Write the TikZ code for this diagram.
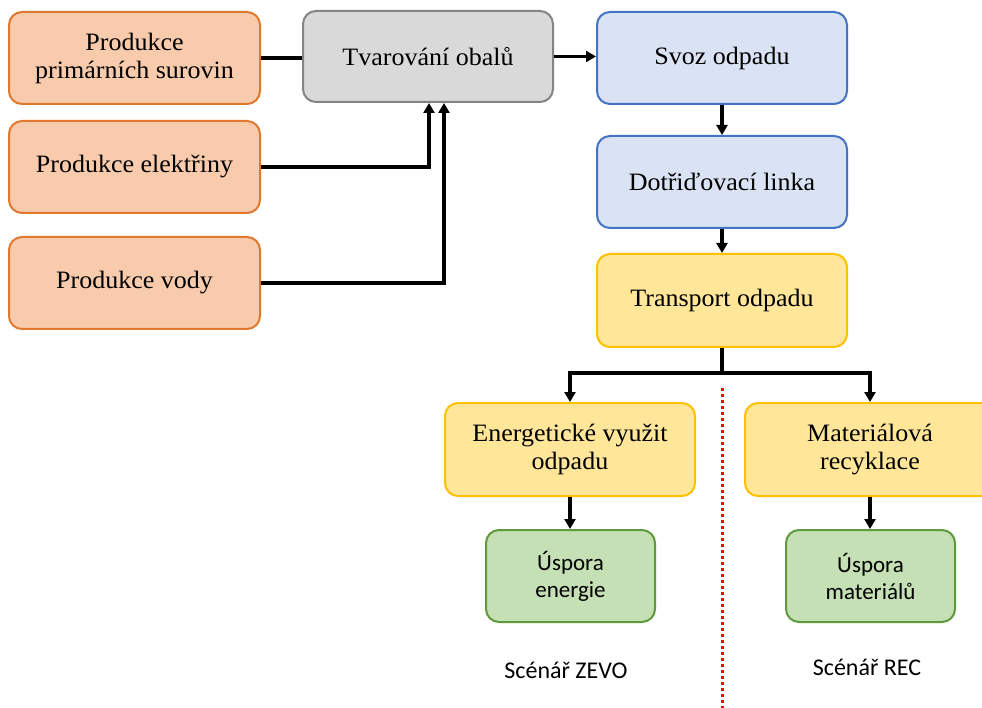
\documentclass[tikz,border=0pt]{standalone}
\usepackage{fontspec}
\setmainfont{Liberation Serif}[FakeStretch=1.04]
\newfontfamily\calib{Carlito}
\usetikzlibrary{arrows.meta}
\definecolor{orF}{HTML}{F8CBAD}
\definecolor{orD}{HTML}{E0782F}
\definecolor{grF}{HTML}{D9D9D9}
\definecolor{grD}{HTML}{848484}
\definecolor{blF}{HTML}{DAE3F3}
\definecolor{blD}{HTML}{4472C4}
\definecolor{yeF}{HTML}{FFE699}
\definecolor{yeD}{HTML}{FFC000}
\definecolor{gnF}{HTML}{C5E0B4}
\definecolor{gnD}{HTML}{5E9A3C}
\tikzset{
  box/.style={rectangle, rounded corners=13pt, line width=2pt, align=center,
    font=\fontsize{25}{28}\selectfont, inner sep=0pt},
  obox/.style={box, fill=orF, draw=orD, minimum width=251pt, minimum height=92pt},
  gbox/.style={box, fill=grF, draw=grD, minimum width=250pt, minimum height=91pt},
  bbox/.style={box, fill=blF, draw=blD, minimum width=250pt, minimum height=92pt},
  ybox/.style={box, fill=yeF, draw=yeD, minimum width=250pt, minimum height=93pt},
  gnbox/.style={box, fill=gnF, draw=gnD, minimum width=169pt, minimum height=92pt,
    font=\calib\fontsize{23}{27}\selectfont},
  lbl/.style={font=\calib\fontsize{24}{28}\selectfont, inner sep=0pt},
  conn/.style={line width=3.6pt, black},
  arr/.style={conn, -{Triangle[length=10pt,width=11pt]}},
}
\begin{document}
\begin{tikzpicture}[x=1pt,y=-1pt]
\useasboundingbox (0,0) rectangle (982,708);
\clip (0,0) rectangle (982,708);
\fill[white] (0,0) rectangle (982,708);

\node[obox] (p1) at (134.5,58) {Produkce\\primárních surovin};
\node[obox] (p2) at (134.5,167) {Produkce elektřiny};
\node[obox] (p3) at (134.5,283) {Produkce vody};
\node[gbox] (tv) at (428,56.5) {Tvarování obalů};
\node[bbox] (sv) at (722,58) {Svoz odpadu};
\node[bbox] (dt) at (722,182) {Dotřiďovací linka};
\node[ybox] (tr) at (722,300.5) {Transport odpadu};
\node[ybox] (en) at (570,449.5) {Energetické využit\\odpadu};
\node[ybox] (ma) at (870,449.5) {Materiálová\\recyklace};
\node[gnbox] (ue) at (570.5,576) {Úspora\\energie};
\node[gnbox] (um) at (870.5,576) {Úspora\\materiálů};
\node[lbl] (sz) at (566,670) {Scénář ZEVO};
\node[lbl] (sr) at (867,667) {Scénář REC};

\draw[conn] (p1.east) -- (p1.east -| tv.west);
\draw[arr] (tv.east) -- (tv.east -| sv.west);
\draw[arr] (p2.east) -| ([xshift=1pt]tv.south);
\draw[arr] (p3.east) -| ([xshift=16pt]tv.south);
\draw[arr] (sv.south) -- (dt.north);
\draw[arr] (dt.south) -- (tr.north);
\draw[conn] (tr.south) -- ++(0,25) coordinate (sp);
\draw[arr] (sp) -| (en.north);
\draw[arr] (sp) -| (ma.north);
\draw[arr] (en.south) -- (en.south |- ue.north);
\draw[arr] (ma.south) -- (ma.south |- um.north);

\draw[red, line width=3pt, dash pattern=on 3pt off 3pt] (722,388) -- (722,708);
\end{tikzpicture}
\end{document}
